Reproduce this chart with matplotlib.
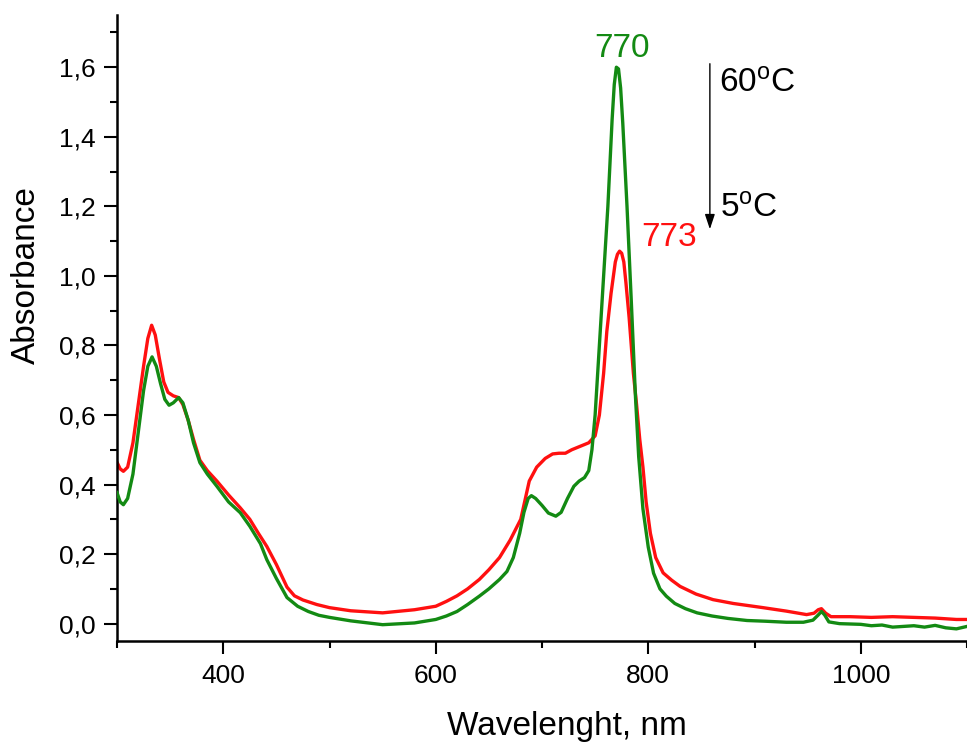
import matplotlib
matplotlib.use("Agg")
import matplotlib.pyplot as plt
from matplotlib.ticker import MultipleLocator, FuncFormatter

plt.rcParams['font.family'] = ['Liberation Sans', 'DejaVu Sans']
plt.rcParams['mathtext.fontset'] = 'custom'
plt.rcParams['mathtext.rm'] = 'Liberation Sans'
plt.rcParams['mathtext.it'] = 'Liberation Sans:italic'

# ---- data ----
green_wl = [300, 303, 306, 310, 315, 320, 325, 329, 333, 337, 341, 345, 349, 353, 358, 362, 367,
            372, 378, 385, 394, 405, 416, 425, 435, 441, 450, 460, 470, 480, 490, 500, 520, 550,
            580, 600, 610, 620, 630, 641, 650, 660, 667, 673, 679, 683, 687, 690, 694, 700, 706,
            713, 718, 724, 730, 735, 740, 744, 747, 750, 753, 757, 762, 766, 768, 770, 772, 774,
            776, 780, 784, 788, 791, 795, 800, 805, 811, 817, 825, 835, 846, 860, 875, 893, 910,
            930, 946, 955, 960, 963, 966, 970, 980, 1000, 1010, 1020, 1030, 1040, 1050, 1060,
            1070, 1080, 1090, 1100]
green_abs = [0.377, 0.35, 0.342, 0.36, 0.43, 0.55, 0.67, 0.74, 0.767, 0.74, 0.69, 0.645, 0.628,
             0.635, 0.65, 0.635, 0.585, 0.52, 0.463, 0.43, 0.395, 0.35, 0.319, 0.28, 0.23, 0.184,
             0.13, 0.075, 0.05, 0.035, 0.024, 0.018, 0.008, -0.003, 0.002, 0.012, 0.022, 0.035,
             0.055, 0.079, 0.10, 0.127, 0.15, 0.19, 0.26, 0.32, 0.36, 0.368, 0.36, 0.34, 0.318,
             0.309, 0.32, 0.36, 0.395, 0.41, 0.42, 0.44, 0.50, 0.60, 0.75, 0.95, 1.20, 1.45, 1.55,
             1.60, 1.595, 1.54, 1.44, 1.20, 0.93, 0.65, 0.48, 0.33, 0.22, 0.145, 0.10, 0.079,
             0.058, 0.043, 0.031, 0.022, 0.015, 0.009, 0.007, 0.004, 0.004, 0.01, 0.025, 0.035,
             0.025, 0.005, 0.0, -0.002, -0.006, -0.004, -0.01, -0.008, -0.006, -0.01, -0.005,
             -0.012, -0.015, -0.008]

red_wl = [300, 303, 306, 310, 315, 320, 325, 329, 332.6, 336, 340, 344, 348, 353, 358, 362, 367,
          372, 378, 385, 394, 405, 416, 425, 433, 441, 450, 460, 467, 475, 488, 500, 520, 550,
          580, 600, 610, 620, 630, 641, 650, 660, 670, 680, 684, 688, 695, 703, 710, 716, 722,
          728, 736, 744, 750, 754, 758, 761, 765, 769, 771, 773, 775, 777, 779, 782, 786, 789,
          792, 795, 798, 802, 807, 814, 822, 830, 845, 861, 880, 908, 930, 949, 956, 960, 963,
          967, 972, 990, 1010, 1030, 1050, 1070, 1090, 1100]
red_abs = [0.464, 0.445, 0.438, 0.45, 0.52, 0.63, 0.74, 0.82, 0.858, 0.83, 0.76, 0.695, 0.665,
           0.655, 0.65, 0.63, 0.585, 0.53, 0.47, 0.44, 0.41, 0.37, 0.333, 0.30, 0.26, 0.222,
           0.17, 0.105, 0.08, 0.068, 0.055, 0.046, 0.037, 0.031, 0.04, 0.05, 0.064, 0.08, 0.10,
           0.127, 0.155, 0.19, 0.24, 0.30, 0.355, 0.41, 0.45, 0.475, 0.488, 0.49, 0.49, 0.50,
           0.51, 0.52, 0.54, 0.60, 0.72, 0.84, 0.95, 1.04, 1.062, 1.071, 1.065, 1.04, 0.98,
           0.88, 0.72, 0.63, 0.53, 0.45, 0.35, 0.26, 0.19, 0.146, 0.125, 0.107, 0.085, 0.069,
           0.058, 0.046, 0.036, 0.026, 0.03, 0.04, 0.043, 0.03, 0.02, 0.02, 0.018, 0.02, 0.018,
           0.016, 0.012, 0.012]

peak_labels = ["770", "773"]
temp_labels = ["60$^{\\rm o}$C", "5$^{\\rm o}$C"]

GREEN = '#138a13'
RED = '#ff1010'

fig = plt.figure(figsize=(9.67, 7.44), dpi=100)
ax = fig.add_axes([0.121, 0.1384, 0.879, 0.8414])

ax.plot(green_wl, green_abs, color=GREEN, lw=2.4, zorder=3, solid_joinstyle='round')
ax.plot(red_wl, red_abs, color=RED, lw=2.4, zorder=2, solid_joinstyle='round')

ax.set_xlim(300, 1100)
ax.set_ylim(-0.05, 1.75)

ax.spines['top'].set_visible(False)
ax.spines['right'].set_visible(False)
ax.spines['left'].set_linewidth(1.8)
ax.spines['bottom'].set_linewidth(1.8)

ax.xaxis.set_major_locator(MultipleLocator(200))
ax.xaxis.set_minor_locator(MultipleLocator(100))
ax.yaxis.set_major_locator(MultipleLocator(0.2))
ax.yaxis.set_minor_locator(MultipleLocator(0.1))
ax.yaxis.set_major_formatter(FuncFormatter(lambda v, p: f"{v:.1f}".replace('.', ',')))
ax.xaxis.set_major_formatter(FuncFormatter(lambda v, p: f"{v:.0f}"))

ax.tick_params(which='major', direction='out', length=9.5, width=1.5, labelsize=19, pad=6)
ax.tick_params(which='minor', direction='out', length=5, width=1.5)
ax.tick_params(axis='x', which='major', pad=7)

ax.set_xlabel("Wavelenght, nm", fontsize=24)
ax.set_ylabel("Absorbance", fontsize=24)
ax.xaxis.set_label_coords(0.529, -0.150)
ax.yaxis.set_label_coords(-0.107, 0.585)
ax.xaxis.label.set_va('baseline')
ax.yaxis.label.set_va('center')

# peak labels
ax.text(775, 1.629, peak_labels[0], color=GREEN, fontsize=24, ha='center', va='baseline')
ax.text(819.5, 1.085, peak_labels[1], color=RED, fontsize=24, ha='center', va='baseline')

# temperature arrow
ax.annotate("", xy=(858, 1.134), xytext=(858, 1.61),
            arrowprops=dict(arrowstyle='-|>,head_length=0.9,head_width=0.3', color='black',
                            lw=1.0, shrinkA=0, shrinkB=0))
ax.text(866.6, 1.528, temp_labels[0], fontsize=24, ha='left', va='baseline')
ax.text(867.5, 1.168, temp_labels[1], fontsize=24, ha='left', va='baseline')

fig.savefig("out.png", dpi=100)
